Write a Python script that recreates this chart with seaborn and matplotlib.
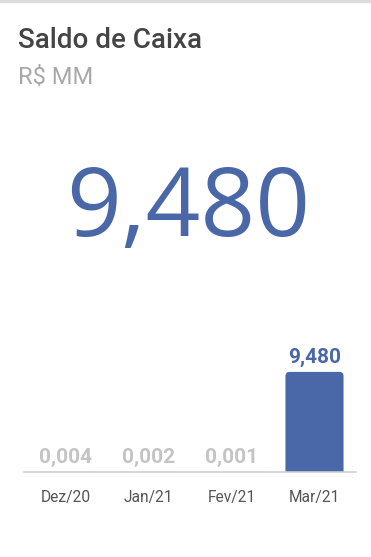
import matplotlib
matplotlib.use("Agg")
import matplotlib.pyplot as plt
import seaborn as sns
import pandas as pd
from matplotlib.patches import FancyBboxPatch
from matplotlib.lines import Line2D

months = ["Dez/20", "Jan/21", "Fev/21", "Mar/21"]
saldo = [0.004, 0.002, 0.001, 9.480]
highlight = [False, False, False, True]
title = "Saldo de Caixa"
subtitle = "R$ MM"

BLUE = "#4a67a8"
GRAY_LABEL = "#c4c4c4"

def fmt(v):
    return "{:.3f}".format(v).replace(".", ",")

sns.set_style("white")
plt.rcParams["font.family"] = ["Roboto", "DejaVu Sans"]

df = pd.DataFrame({"mes": months, "saldo": saldo})

fig = plt.figure(figsize=(3.71, 5.57), dpi=100)

# card top border
fig.add_artist(Line2D([0, 1], [0.998, 0.998], transform=fig.transFigure,
                      color="#dcdcdc", lw=2.5))

fig.text(18 / 371, 1 - 40 / 557, title, fontsize=20, fontweight="medium",
         color="#444444", ha="left", va="center")
fig.text(18 / 371, 1 - 77 / 557, subtitle, fontsize=17, color="#a8a8a8",
         ha="left", va="center")

# headline number = latest value
fig.text(188 / 371, 1 - 211 / 557, fmt(saldo[-1]), fontsize=69,
         family=["Open Sans", "DejaVu Sans"], color=BLUE,
         ha="center", va="center")

ax = fig.add_axes([24 / 371, (557 - 472) / 557, 332 / 371, 132 / 557])
sns.barplot(data=df, x="mes", y="saldo", color=BLUE, width=0.7, ax=ax,
            saturation=1)

# swap bars for rounded-top versions
r_x = 0.05
aspect = 8.0
for p in list(ax.patches):
    x0, w, h = p.get_x(), p.get_width(), p.get_height()
    p.remove()
    ax.add_patch(FancyBboxPatch((x0, -0.6), w, h + 0.6,
                                boxstyle="round,pad=0,rounding_size={}".format(r_x),
                                mutation_aspect=aspect, fc=BLUE, ec="none",
                                zorder=2))

for i, (v, hl) in enumerate(zip(saldo, highlight)):
    ax.annotate(fmt(v), xy=(i, v), xytext=(0, 3.5), textcoords="offset points",
                ha="center", va="bottom", fontsize=15, fontweight="bold",
                color=BLUE if hl else GRAY_LABEL)

ax.set_xlim(-0.5, 3.5)
ax.set_ylim(0, 12.5)
ax.set_xlabel("")
ax.set_ylabel("")
ax.set_yticks([])
sns.despine(ax=ax, left=True)
ax.spines["bottom"].set_color("#cfcfcf")
ax.spines["bottom"].set_linewidth(1.2)
ax.spines["bottom"].set_zorder(3)
ax.tick_params(axis="x", length=0, pad=13, labelsize=11.2, labelcolor="#555555")
ax.patch.set_alpha(0)

fig.savefig("out.png", dpi=100)
